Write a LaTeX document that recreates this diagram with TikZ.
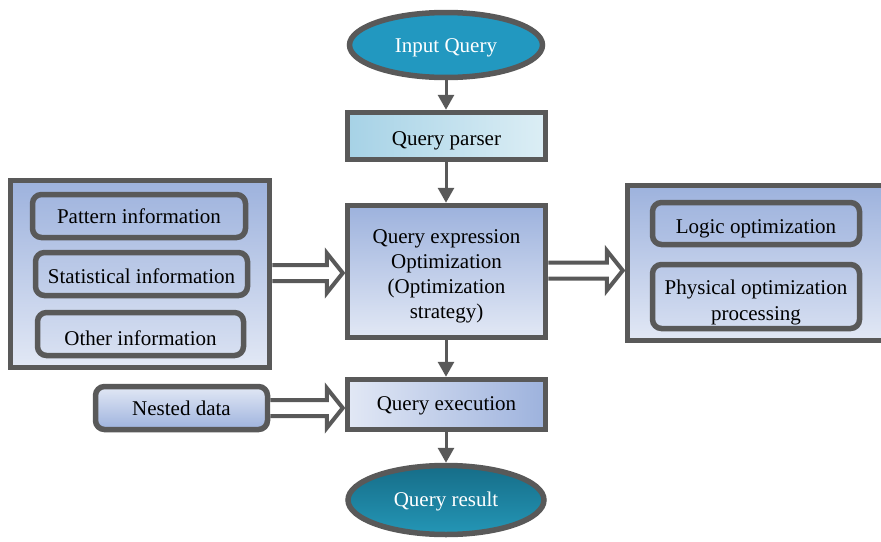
\documentclass[tikz,border=0pt]{standalone}
\usepackage{fontspec}
\setmainfont{Liberation Serif}
\usetikzlibrary{arrows.meta,calc,shapes.geometric}
\definecolor{edge}{HTML}{595959}
\definecolor{inq}{HTML}{2298C0}
\definecolor{resdark}{HTML}{166D88}
\definecolor{reslight}{HTML}{2496B6}
\definecolor{pdark}{HTML}{A6D2E6}
\definecolor{plight}{HTML}{DCEEF5}
\definecolor{ldark}{HTML}{9DB2DD}
\definecolor{llight}{HTML}{E2E8F5}
\begin{document}
\begin{tikzpicture}[x=1pt,y=-1pt,
  every node/.style={font=\fontsize{21}{25}\selectfont, inner sep=0pt, align=center},
  txt/.style 2 args={label={[yshift=-#1pt, text=black]center:#2}},
  wtxt/.style 2 args={label={[yshift=-#1pt, text=white]center:#2}},
  frame/.style={draw=edge, line width=5.5pt, rectangle},
  innerbox/.style={draw=edge, line width=5.5pt, rectangle, rounded corners=9pt},
  oval/.style={draw=edge, line width=5.5pt, ellipse},
  conn/.style={draw=edge, line width=3pt, -{Triangle[length=15pt,width=16pt]}},
  hollow/.style={draw=edge, fill=white, line width=4pt, line join=miter}
]
\useasboundingbox (0,0) rectangle (881,541);

% outer group boxes
\node[frame, top color=ldark, bottom color=llight, minimum width=259pt, minimum height=187pt] (lbox) at (140,274) {};
\node[frame, top color=ldark, bottom color=llight, minimum width=265pt, minimum height=155pt] (rbox) at (760,263) {};

% inner boxes left
\node[innerbox, top color=ldark!92!llight, bottom color=ldark!72!llight, minimum width=213pt, minimum height=43pt, txt={0}{Pattern information}] (pat) at (139,216) {};
\node[innerbox, top color=ldark!65!llight, bottom color=ldark!45!llight, minimum width=212pt, minimum height=43pt, txt={2}{Statistical information}] (stat) at (141.5,274) {};
\node[innerbox, top color=ldark!38!llight, bottom color=ldark!15!llight, minimum width=206pt, minimum height=43pt, txt={4}{Other information}] (oth) at (140.5,334) {};

% inner boxes right
\node[innerbox, top color=ldark!92!llight, bottom color=ldark!72!llight, minimum width=207pt, minimum height=42pt, txt={5}{Logic optimization}] (logic) at (756,223.5) {};
\node[innerbox, top color=ldark!60!llight, bottom color=ldark!20!llight, minimum width=207pt, minimum height=64pt, txt={6}{Physical optimization\\[1pt]processing}] (phys) at (756,296.5) {};

% main column
\node[oval, fill=inq, minimum width=193pt, minimum height=65pt, wtxt={3}{Input Query}] (input) at (446,45) {};
\node[frame, left color=pdark, right color=plight, minimum width=198pt, minimum height=47pt, txt={5}{Query parser}] (parser) at (446.5,136) {};
\node[frame, shading angle=-45, top color=ldark, bottom color=llight, minimum width=198pt, minimum height=132pt, txt={5}{Query expression\\Optimization\\(Optimization\\strategy)}] (qexpr) at (446.5,271.5) {};
\node[frame, left color=llight, right color=ldark, minimum width=198pt, minimum height=50pt, txt={1.5}{Query execution}] (qexec) at (446.5,404.5) {};
\node[oval, shading angle=45, top color=resdark, bottom color=reslight, minimum width=196pt, minimum height=69pt, wtxt={1.5}{Query result}] (res) at (446,500) {};

\node[innerbox, shading angle=-45, top color=llight, bottom color=ldark, minimum width=172pt, minimum height=43pt, txt={0.5}{Nested data}] (nest) at (181.5,408) {};

% single arrows
\draw[conn] (input.south) -- (input.south |- parser.north);
\draw[conn] (parser.south -| input.south) -- (input.south |- qexpr.north);
\draw[conn] (qexpr.south -| input.south) -- (input.south |- qexec.north);
\draw[conn] (qexec.south -| input.south) -- (input.south |- res.north);

% hollow arrows
\coordinate (h1s) at ($(lbox.east)+(0,-1)$);
\coordinate (h1t) at (qexpr.west |- h1s);
\draw[hollow] ($(h1s)+(0,-8)$) -- ($(h1t)+(-18,-8)$) -- ($(h1t)+(-18,-20)$) -- ($(h1t)+(-2,0)$) -- ($(h1t)+(-18,20)$) -- ($(h1t)+(-18,8)$) -- ($(h1s)+(0,8)$);

\coordinate (h2s) at ($(qexpr.east)+(0,-1)$);
\coordinate (h2t) at (rbox.west |- h2s);
\draw[hollow] ($(h2s)+(0,-8)$) -- ($(h2t)+(-18,-8)$) -- ($(h2t)+(-18,-20)$) -- ($(h2t)+(-2,0)$) -- ($(h2t)+(-18,20)$) -- ($(h2t)+(-18,8)$) -- ($(h2s)+(0,8)$);

\coordinate (h3s) at (nest.east);
\coordinate (h3t) at (qexec.west |- h3s);
\draw[hollow] ($(h3s)+(0,-8)$) -- ($(h3t)+(-18,-8)$) -- ($(h3t)+(-18,-20)$) -- ($(h3t)+(-2,0)$) -- ($(h3t)+(-18,20)$) -- ($(h3t)+(-18,8)$) -- ($(h3s)+(0,8)$);
\end{tikzpicture}
\end{document}
